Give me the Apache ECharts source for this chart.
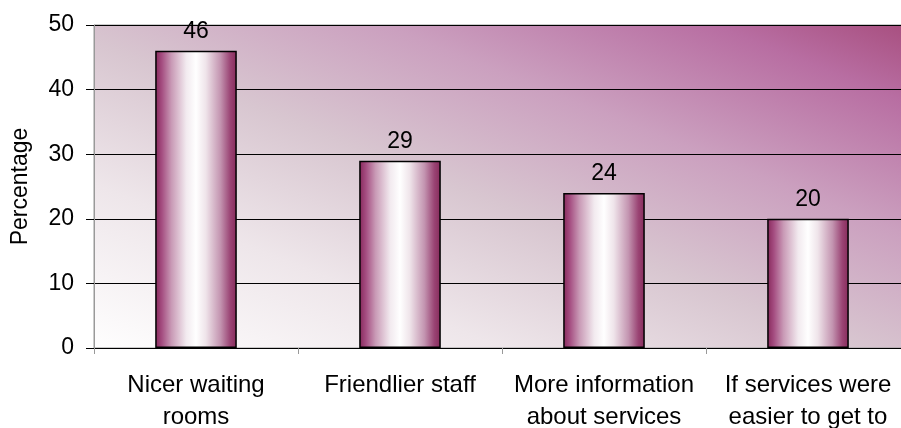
<!DOCTYPE html>
<html>
<head>
<meta charset="utf-8">
<script src="https://cdn.jsdelivr.net/npm/echarts@6/dist/echarts.min.js"></script>
<style>
  html, body { margin: 0; padding: 0; background: #fff; }
  #chart { width: 901px; height: 428px; }
</style>
</head>
<body>
<div id="chart"></div>
<script>
// categories on the x axis (two-line labels)
const categories = [
  "Nicer waiting\nrooms",
  "Friendlier staff",
  "More information\nabout services",
  "If services were\neasier to get to"
];
// percentage per category
const percentages = [46, 29, 24, 20];
const yTicks = { min: 0, max: 50, interval: 10 };

const chart = echarts.init(document.getElementById("chart"));

// cylinder-ish shading for the bars
const barFill = {
  type: "linear", x: 0, y: 0, x2: 1, y2: 0,
  colorStops: [
    { offset: 0, color: "#86285a" },
    { offset: 0.08, color: "#a44c80" },
    { offset: 0.2, color: "#c99ab6" },
    { offset: 0.38, color: "#f2eaef" },
    { offset: 0.5, color: "#ffffff" },
    { offset: 0.62, color: "#efe4ea" },
    { offset: 0.8, color: "#c394b0" },
    { offset: 0.92, color: "#9a4474" },
    { offset: 1, color: "#862a5a" }
  ]
};

// plot area background: white bottom-left, magenta top-right
const plotFill = {
  type: "linear", x: 0.3, y: 1.76, x2: 0.7, y2: -0.76,
  colorStops: [
    { offset: 0.15, color: "#ffffff" },
    { offset: 0.33, color: "#eee6ea" },
    { offset: 0.48, color: "#d8c6d0" },
    { offset: 0.62, color: "#cba0bf" },
    { offset: 0.76, color: "#b86ea2" },
    { offset: 0.88, color: "#a0406f" },
    { offset: 1, color: "#952e66" }
  ]
};

const option = {
  animation: false,
  textStyle: { fontFamily: "Liberation Sans, Arial, sans-serif", color: "#000" },
  grid: {
    left: 94,
    right: -9,
    top: 25,
    bottom: 80,
    outerBoundsMode: "none",
    containLabel: false,
    show: true,
    backgroundColor: plotFill,
    borderColor: "#999",
    borderWidth: 1
  },
  xAxis: {
    type: "category",
    data: categories,
    axisLine: { show: true, lineStyle: { color: "#000", width: 1 } },
    axisTick: { show: true, length: 6, lineStyle: { color: "#999" } },
    axisLabel: {
      color: "#000",
      fontSize: 24,
      lineHeight: 32,
      margin: 21,
      interval: 0
    }
  },
  yAxis: {
    type: "value",
    min: yTicks.min,
    max: yTicks.max,
    interval: yTicks.interval,
    name: "Percentage",
    nameLocation: "middle",
    nameGap: 62,
    nameTextStyle: { color: "#000", fontSize: 23 },
    axisLine: { show: true, lineStyle: { color: "#999" } },
    axisTick: { show: true, length: 8, lineStyle: { color: "#000" } },
    axisLabel: { color: "#000", fontSize: 23, margin: 20 },
    splitLine: { show: true, lineStyle: { color: "#000", width: 1 } }
  },
  series: [
    {
      type: "bar",
      data: percentages,
      barWidth: "40%",
      itemStyle: { color: barFill, borderColor: "#000", borderWidth: 1.5 },
      label: {
        show: true,
        position: "top",
        distance: 8,
        color: "#000",
        fontSize: 23
      }
    }
  ]
};

chart.setOption(option);
</script>
</body>
</html>
